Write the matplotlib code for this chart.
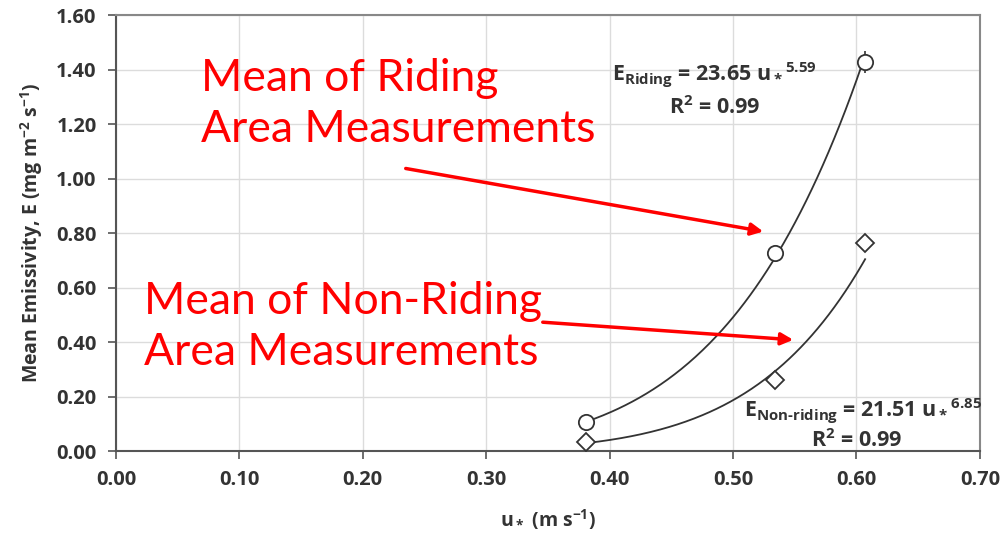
import numpy as np
import matplotlib
matplotlib.use("Agg")
import matplotlib.pyplot as plt

plt.rcParams['font.family'] = ['Open Sans', 'DejaVu Sans']
plt.rcParams['mathtext.fontset'] = 'custom'
plt.rcParams['mathtext.rm'] = 'Open Sans:bold'
plt.rcParams['mathtext.bf'] = 'Open Sans:bold'
plt.rcParams['mathtext.it'] = 'Open Sans:bold'
plt.rcParams['mathtext.default'] = 'bf'

# Data
u_star = [0.381, 0.534, 0.607]
riding_E = [0.106, 0.727, 1.428]
riding_err = [0.006, 0.008, 0.04]
nonriding_E = [0.033, 0.262, 0.764]
nonriding_err = [0.006, 0.02, 0.03]
riding_coef, riding_exp = 23.65, 5.59
nonriding_coef, nonriding_exp = 21.51, 6.85
x_ticks = [0.0, 0.1, 0.2, 0.3, 0.4, 0.5, 0.6, 0.7]
y_ticks = [0.0, 0.2, 0.4, 0.6, 0.8, 1.0, 1.2, 1.4, 1.6]

fig = plt.figure(figsize=(10.04, 5.38), dpi=100)
ax = fig.add_axes([0.1155, 0.1617, 0.8605, 0.8104])

ax.set_xlim(0, 0.7)
ax.set_ylim(0, 1.6)
ax.set_xticks(x_ticks)
ax.set_yticks(y_ticks)
ax.set_xticklabels([f"{v:.2f}" for v in x_ticks], fontsize=14.5, fontweight='bold', color='#333333')
ax.set_yticklabels([f"{v:.2f}" for v in y_ticks], fontsize=14.5, fontweight='bold', color='#333333')
ax.grid(True, color='#dcdcdc', linewidth=1)
ax.set_axisbelow(True)
ax.tick_params(direction='out', length=6, width=1.2, color='#555555', pad=8)
for side in ['left', 'bottom']:
    ax.spines[side].set_color('#555555')
    ax.spines[side].set_linewidth(1.5)
for side in ['top', 'right']:
    ax.spines[side].set_color('#888888')
    ax.spines[side].set_linewidth(1.5)

# Fit curves from stated power-law equations
xr = np.linspace(u_star[0], u_star[-1], 200)
ax.plot(xr, riding_coef * xr ** riding_exp, color='#333333', lw=1.3, zorder=2)
ax.plot(xr, nonriding_coef * xr ** nonriding_exp, color='#333333', lw=1.3, zorder=2)

ax.errorbar(u_star, riding_E, yerr=riding_err, fmt='o', ms=11, mfc='white', mec='#333333',
            mew=1.3, ecolor='#333333', elinewidth=1.2, capsize=0, zorder=3)
ax.errorbar(u_star, nonriding_E, yerr=nonriding_err, fmt='D', ms=9, mfc='white', mec='#333333',
            mew=1.3, ecolor='#333333', elinewidth=1.2, capsize=0, zorder=3)

ax.set_xlabel(r"u$_*$ (m s$^{-1}$)", fontsize=14, fontweight='bold', color='#333333', labelpad=12)
ax.set_ylabel(r"Mean Emissivity, E (mg m$^{-2}$ s$^{-1}$)", fontsize=14, fontweight='bold',
              color='#333333', labelpad=8)

# Equations
ax.text(0.485, 1.38, r"E$_{Riding}$ = 23.65 u$_*$$^{5.59}$", fontsize=15.5, fontweight='bold',
        color='#333333', ha='center', va='center')
ax.text(0.485, 1.26, r"R$^{2}$ = 0.99", fontsize=15.5, fontweight='bold',
        color='#333333', ha='center', va='center')
ax.text(0.605, 0.15, r"E$_{Non\text{-}riding}$ = 21.51 u$_*$$^{6.85}$", fontsize=15.5, fontweight='bold',
        color='#333333', ha='center', va='center')
ax.text(0.600, 0.04, r"R$^{2}$ = 0.99", fontsize=15.5, fontweight='bold',
        color='#333333', ha='center', va='center')

# Red annotations (figure pixel coords)
def px(x, y):
    return (x / 1004, 1 - y / 538)

fig.text(*px(201, 104), "Mean of Riding\nArea Measurements", fontsize=32, color='red',
         ha='left', va='center', linespacing=1.3, family=['Lato', 'DejaVu Sans'])
fig.text(*px(144, 327), "Mean of Non-Riding\nArea Measurements", fontsize=32, color='red',
         ha='left', va='center', linespacing=1.3, family=['Lato', 'DejaVu Sans'])

fig.add_artist(matplotlib.patches.FancyArrowPatch(px(403, 168), px(766, 232), transform=fig.transFigure,
               arrowstyle='-|>', mutation_scale=18, color='red', lw=2.5))
fig.add_artist(matplotlib.patches.FancyArrowPatch(px(540, 322), px(796, 340), transform=fig.transFigure,
               arrowstyle='-|>', mutation_scale=18, color='red', lw=2.5))

fig.savefig("out.png", dpi=100)
